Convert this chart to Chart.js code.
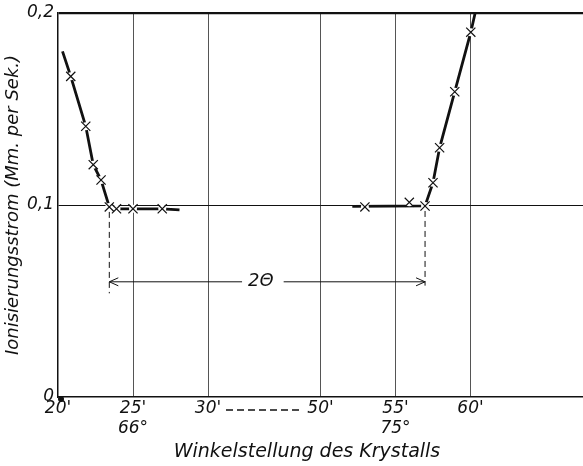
<!DOCTYPE html>
<html>
<head>
<meta charset="utf-8">
<script src="https://cdn.jsdelivr.net/npm/chart.js@4.4.1/dist/chart.umd.min.js"></script>
<style>
  html, body { margin: 0; padding: 0; background: #fff; }
  #wrap { width: 583px; height: 466px; }
</style>
</head>
<body>
<div id="wrap"><canvas id="c" width="583" height="466"></canvas></div>
<script>
// Crystal setting (arc minutes) near 66° (left branch) and 75° (right branch),
// ionisation current in mm per second.
const leftAngles    = [20.85, 21.85, 22.35, 22.87, 23.42, 23.9, 25.0, 26.95];
const leftCurrent   = [0.167, 0.141, 0.121, 0.113, 0.099, 0.098, 0.098, 0.098];
const rightAngles   = [52.96, 55.92, 56.97, 57.5, 57.94, 58.95, 60.02];
const rightCurrent  = [0.099, 0.1014, 0.0995, 0.1116, 0.1298, 0.159, 0.190];

// Drawn curves through the readings
const leftCurveAngles   = [20.3, 20.85, 21.85, 22.35, 22.87, 23.42, 23.9, 25.0, 26.95, 28.1];
const leftCurveCurrent  = [0.180, 0.167, 0.141, 0.121, 0.113, 0.099, 0.098, 0.098, 0.098, 0.0975];
const rightCurveAngles  = [52.12, 56.97, 57.5, 57.94, 58.95, 60.02, 60.31];
const rightCurveCurrent = [0.0993, 0.0995, 0.1116, 0.1298, 0.159, 0.190, 0.2];

// The two reflection edges marked for the 2Θ distance, and the arrow level
const edgeAngles = [23.42, 56.97];
const edgeCurrent = [0.099, 0.0995];
const arrowLevel = 0.06;
const dashBottom = [0.054, 0.058];

// Axis ticks: the scale is broken between 30' and 50'
const tickMinutes = [20, 25, 30, 50, 55, 60];
const tickDegrees = ['', '66°', '', '', '75°', ''];
const currentTicks = [0, 0.1, 0.2];
const currentLabels = ['0', '0,1', '0,2'];
const xTitle = 'Winkelstellung des Krystalls';

// Position along the broken axis
function pos(m) { return m < 40 ? m - 20 : m - 32.5; }
const xy = (ms, vs) => ms.map((m, i) => ({ x: pos(m), y: vs[i] }));

const FONT = 'DejaVu Sans';
const INK = '#111';

const overlay = {
  id: 'overlay',
  afterDatasetsDraw(chart) {
    const { ctx, scales: { x, y } } = chart;
    ctx.save();
    ctx.strokeStyle = INK;
    ctx.lineWidth = 1;
    // dashed drop lines from the edges
    ctx.setLineDash([6, 4]);
    edgeAngles.forEach((m, i) => {
      const px = x.getPixelForValue(pos(m));
      ctx.beginPath();
      ctx.moveTo(px, y.getPixelForValue(edgeCurrent[i]) + 5);
      ctx.lineTo(px, y.getPixelForValue(dashBottom[i]));
      ctx.stroke();
    });
    ctx.setLineDash([]);
    // double arrow with label
    const x1 = x.getPixelForValue(pos(edgeAngles[0]));
    const x2 = x.getPixelForValue(pos(edgeAngles[1]));
    const ay = y.getPixelForValue(arrowLevel);
    ctx.font = `italic 18px "${FONT}"`;
    const label = '2Θ';
    const cx = x1 + (x2 - x1) * 0.48;
    const w = ctx.measureText(label).width;
    ctx.beginPath();
    ctx.moveTo(x1, ay); ctx.lineTo(cx - w / 2 - 6, ay);
    ctx.moveTo(cx + w / 2 + 10, ay); ctx.lineTo(x2, ay);
    ctx.stroke();
    ctx.beginPath();
    ctx.moveTo(x1 + 9, ay - 4); ctx.lineTo(x1, ay); ctx.lineTo(x1 + 9, ay + 4);
    ctx.moveTo(x2 - 9, ay - 4); ctx.lineTo(x2, ay); ctx.lineTo(x2 - 9, ay + 4);
    ctx.stroke();
    ctx.fillStyle = INK;
    ctx.textAlign = 'center';
    ctx.textBaseline = 'middle';
    ctx.fillText(label, cx, ay);
    // dashes marking the break between 30' and 50'
    const b1 = x.getPixelForValue(pos(30)) + 18;
    const b2 = x.getPixelForValue(pos(50)) - 19;
    ctx.lineWidth = 1.6;
    ctx.setLineDash([7, 4]);
    ctx.beginPath();
    const by = chart.chartArea.bottom + 13;
    ctx.moveTo(b1, by); ctx.lineTo(b2, by);
    ctx.stroke();
    ctx.setLineDash([]);
    // axis title
    ctx.font = `italic 19px "${FONT}"`;
    ctx.fillText(xTitle, 307, 452);
    // ink spot at the origin
    ctx.beginPath();
    ctx.arc(x.getPixelForValue(0) + 3, y.getPixelForValue(0) + 2, 3, 0, Math.PI * 2);
    ctx.fill();
    ctx.restore();
  }
};

new Chart(document.getElementById('c'), {
  type: 'scatter',
  data: {
    datasets: [
      { data: xy(leftCurveAngles, leftCurveCurrent), showLine: true, borderColor: INK, borderWidth: 2.8, pointRadius: 0, order: 3 },
      { data: xy(rightCurveAngles, rightCurveCurrent), showLine: true, borderColor: INK, borderWidth: 2.8, pointRadius: 0, order: 3 },
      { data: xy(leftAngles, leftCurrent).concat(xy(rightAngles, rightCurrent)), pointStyle: 'circle', pointRadius: 4, backgroundColor: '#fff', borderWidth: 0, order: 2 },
      { data: xy(leftAngles, leftCurrent).concat(xy(rightAngles, rightCurrent)), pointStyle: 'crossRot', pointRadius: 6.5, borderColor: INK, borderWidth: 1.2, order: 1 }
    ]
  },
  options: {
    responsive: false,
    animation: false,
    devicePixelRatio: 1,
    layout: { autoPadding: false, padding: { top: 13, right: 0, left: 0, bottom: 0 } },
    plugins: { legend: { display: false }, tooltip: { enabled: false } },
    scales: {
      x: {
        type: 'linear', min: 0, max: 35,
        afterBuildTicks: s => { s.ticks = tickMinutes.map(m => ({ value: pos(m) })); },
        afterFit: s => { s.height = 69; s.paddingLeft = 0; s.paddingRight = 0; },
        ticks: {
          autoSkip: false, maxRotation: 0, padding: 1, color: INK,
          font: { family: FONT, size: 17, style: 'italic', lineHeight: 1.2 },
          callback: (v, i) => tickDegrees[i] ? [tickMinutes[i] + "'", tickDegrees[i]] : tickMinutes[i] + "'"
        },
        grid: { drawTicks: false, color: c => c.tick && c.tick.value === 0 ? 'rgba(0,0,0,0)' : '#555', lineWidth: 1 },
        border: { color: INK, width: 1.5 }
      },
      y: {
        min: 0, max: 0.2,
        afterBuildTicks: s => { s.ticks = currentTicks.map(v => ({ value: v })); },
        afterFit: s => { s.width = 58; s.paddingTop = 0; s.paddingBottom = 0; },
        ticks: {
          padding: 4, color: INK,
          font: { family: FONT, size: 17, style: 'italic' },
          callback: (v, i) => currentLabels[i]
        },
        grid: {
          drawTicks: false,
          color: c => c.tick && c.tick.value === 0 ? 'rgba(0,0,0,0)' : INK,
          lineWidth: c => c.tick && c.tick.value === 0.2 ? 2.2 : 1
        },
        border: { color: INK, width: 1.5 },
        title: { display: true, text: 'Ionisierungsstrom (Mm. per Sek.)', color: INK, font: { family: FONT, size: 18, style: 'italic' }, padding: { top: 3, bottom: 0 } }
      }
    }
  },
  plugins: [overlay]
});
</script>
</body>
</html>
